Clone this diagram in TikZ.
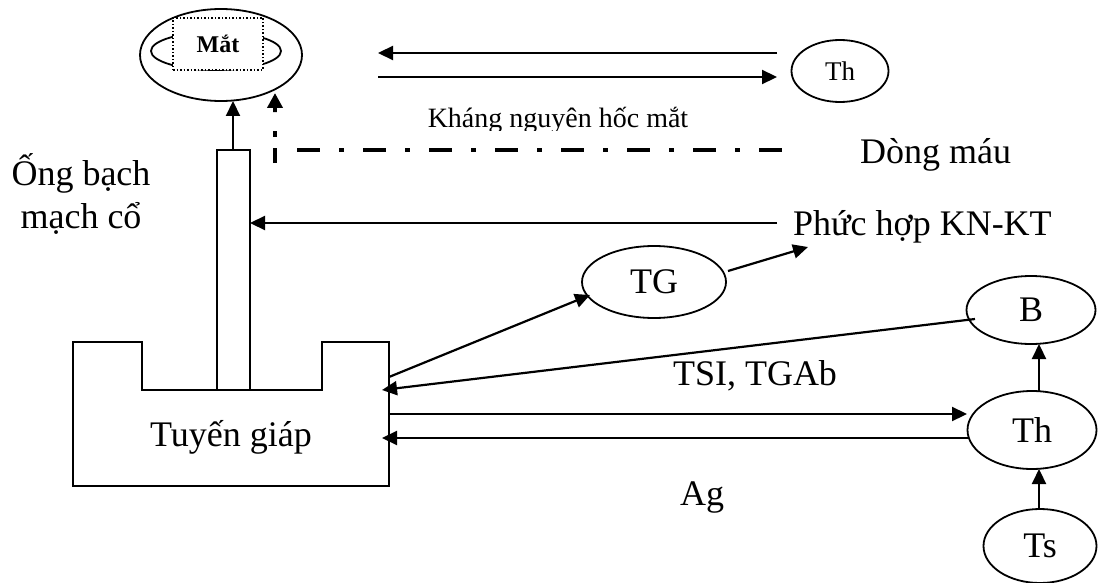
\documentclass[tikz,border=0pt]{standalone}
\usepackage{fontspec}
\setmainfont{Liberation Serif}
\usetikzlibrary{shapes.geometric,arrows.meta}
\begin{document}
\begin{tikzpicture}[x=1pt,y=-1pt,
  ell/.style={draw,ellipse,line width=1.8pt,inner sep=0pt,font=\fontsize{36}{43}\selectfont},
  big/.style={font=\fontsize{36}{43}\selectfont,inner sep=0pt},
  arr/.style={line width=2.2pt,-{Triangle[length=15pt,width=14pt]}},
  ln/.style={line width=1.8pt},
  dashdot/.style={line width=4.5pt,dash pattern=on 23pt off 19pt on 5pt off 19pt}]
\useasboundingbox (0,0) rectangle (1100,583);

% eye
\node[ell, minimum width=162pt, minimum height=92pt] (eyeout) at (221,55) {};
\node[ell, minimum width=130pt, minimum height=38pt] (eyein) at (216,51) {};
\node[draw, dotted, line width=1.5pt, fill=white, minimum width=90pt, minimum height=52pt,
      inner sep=0pt, font=\fontsize{24}{28}\selectfont\bfseries] (mat) at (218,44) {Mắt};

% thyroid
\coordinate (g1) at (73,486);
\coordinate (g2) at (389,342);
\draw[ln] (g1) -- (73,342) -- (142,342) -- (142,390) -- (322,390) -- (322,342) -- (g2) -- (389,486) -- cycle;
\node[big] (tg-text) at (231,437) {Tuyến giáp};

% tube
\draw[ln] (217,150) rectangle (250,390);
\coordinate (tubetop) at (233,150);
\coordinate (eyebot) at (233,101);
\draw[arr] (tubetop) -- (eyebot);

% blood flow dash-dot
\coordinate (ddA) at (297,150);
\coordinate (ddB) at (783,150);
\draw[dashdot] (ddA) -- (ddB);
\coordinate (dv0) at (275,163);
\coordinate (dv1) at (275,112);
\coordinate (eyehit) at (275,93);
\draw[line width=4.5pt,dash pattern=on 15pt off 11pt on 6pt off 19pt on 40pt] (dv0) -- (dv1);
\draw[line width=4pt,-{Triangle[length=15pt,width=15pt]}] (dv1) -- (eyehit);

% top Th
\node[ell, minimum width=97pt, minimum height=62pt, font=\fontsize{27}{30}\selectfont] (thtop) at (840,71) {Th};
\coordinate (kR1) at (777,53);
\coordinate (kL1) at (378,53);
\coordinate (kL2) at (378,77);
\coordinate (kR2) at (777,77);
\draw[arr] (kR1) -- (kL1);
\draw[arr] (kL2) -- (kR2);
\begin{scope}
  \clip (380,90) rectangle (740,131);
  \node[anchor=base, inner sep=0pt, font=\fontsize{28}{32}\selectfont] (khang) at (558,128) {Kháng nguyên hốc mắt};
\end{scope}
\node[big, anchor=base west] (dong) at (860,163) {Dòng máu};

\node[big, anchor=base] (ong1) at (81,185) {Ống bạch};
\node[big, anchor=base] (ong2) at (81,228) {mạch cổ};

% complex arrow
\coordinate (pkL) at (777,223);
\coordinate (tuber) at (250,223);
\draw[arr] (pkL) -- (tuber);
\node[big, anchor=base west] (phuc) at (793,235) {Phức hợp KN-KT};

% TG
\node[ell, minimum width=144pt, minimum height=72pt] (tg) at (654,282) {TG};
\coordinate (tgout) at (728,271);
\coordinate (pkarr) at (808,247);
\draw[arr] (tgout) -- (pkarr);
\coordinate (thy1) at (389,377);
\coordinate (tgin) at (590,295);
\draw[arr] (thy1) -- (tgin);

% B, Th, Ts
\node[ell, minimum width=129pt, minimum height=68pt] (b) at (1031,310) {B};
\node[ell, minimum width=129pt, minimum height=78pt] (th) at (1032,430) {Th};
\node[ell, minimum width=113pt, minimum height=74pt] (ts) at (1040,546) {Ts};

\coordinate (bout) at (975,319);
\coordinate (thy2) at (382,390);
\draw[arr] (bout) -- (thy2);

\coordinate (thy3) at (389,414);
\coordinate (thin) at (967,414);
\draw[arr] (thy3) -- (thin);
\coordinate (thout) at (968,438);
\coordinate (thy4) at (382,438);
\draw[arr] (thout) -- (thy4);

\coordinate (thN) at (1039,391);
\coordinate (bS) at (1039,344);
\draw[arr] (thN) -- (bS);
\coordinate (tsN) at (1039,509);
\coordinate (thS) at (1039,469);
\draw[arr] (tsN) -- (thS);

\node[big, anchor=base] (tsi) at (755,385) {TSI, TGAb};
\node[big, anchor=base] (ag) at (702,505) {Ag};
\end{tikzpicture}
\end{document}
